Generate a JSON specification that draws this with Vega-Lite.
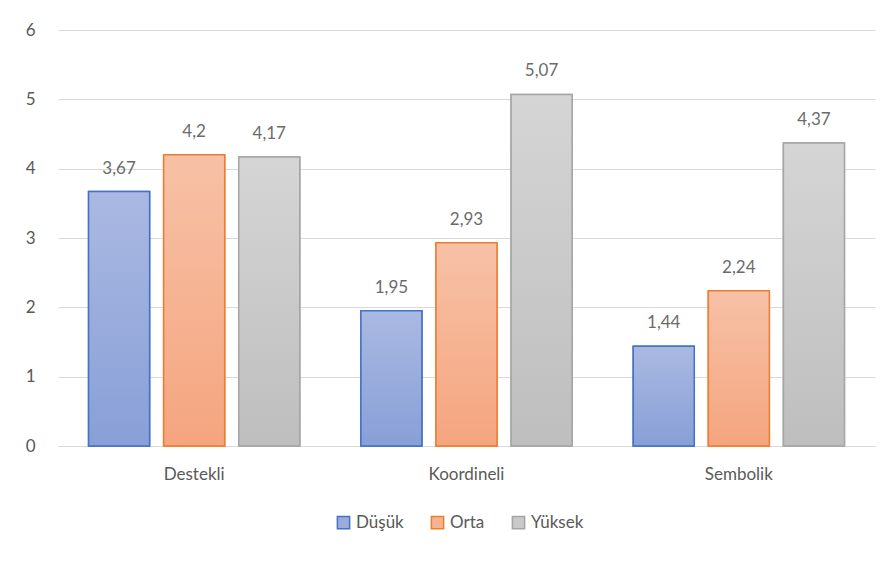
{
  "$schema": "https://vega.github.io/schema/vega-lite/v6.json",
  "width": 817,
  "height": 416,
  "autosize": {"type": "none"},
  "padding": {"left": 58, "top": 30, "right": 18, "bottom": 117},
  "background": "white",
  "config": {
    "locale": {"number": {"decimal": ",", "thousands": ".", "grouping": [3], "currency": ["", " ₺"]}},
    "view": {"stroke": null},
    "font": "Lato",
    "axis": {"labelFont": "Lato", "labelFontSize": 17, "labelColor": "#595959", "ticks": false, "title": null},
    "legend": {"labelFont": "Lato", "labelFontSize": 17, "labelColor": "#595959"}
  },
  "data": {
    "values": [
      {"kategori": "Destekli", "grup": "Düşük", "deger": 3.67},
      {"kategori": "Destekli", "grup": "Orta", "deger": 4.2},
      {"kategori": "Destekli", "grup": "Yüksek", "deger": 4.17},
      {"kategori": "Koordineli", "grup": "Düşük", "deger": 1.95},
      {"kategori": "Koordineli", "grup": "Orta", "deger": 2.93},
      {"kategori": "Koordineli", "grup": "Yüksek", "deger": 5.07},
      {"kategori": "Sembolik", "grup": "Düşük", "deger": 1.44},
      {"kategori": "Sembolik", "grup": "Orta", "deger": 2.24},
      {"kategori": "Sembolik", "grup": "Yüksek", "deger": 4.37}
    ]
  },
  "encoding": {
    "x": {
      "field": "kategori", "type": "nominal", "sort": null,
      "scale": {"paddingInner": 0, "paddingOuter": 0},
      "axis": {"labelAngle": 0, "labelPadding": 20, "domain": true, "domainColor": "#d9d9d9", "domainWidth": 1, "grid": false}
    },
    "xOffset": {
      "field": "grup", "type": "nominal", "sort": null,
      "scale": {"domain": ["Düşük", "Orta", "Yüksek"], "paddingInner": 0.187, "paddingOuter": 0.407}
    },
    "y": {
      "field": "deger", "type": "quantitative",
      "scale": {"domain": [0, 6], "nice": false},
      "axis": {"values": [0, 1, 2, 3, 4, 5, 6], "domain": false, "grid": true, "gridColor": "#d9d9d9", "gridWidth": 1, "labelPadding": 23, "format": "d"}
    }
  },
  "layer": [
    {
      "mark": {"type": "bar", "strokeWidth": 1.5},
      "encoding": {
        "fill": {
          "field": "grup", "type": "nominal", "sort": null,
          "scale": {"domain": ["Düşük", "Orta", "Yüksek"], "range": ["#99acdd", "#f6b392", "#c9c9c9"]},
          "legend": {"title": null, "orient": "none", "legendX": 277, "legendY": 484, "direction": "horizontal", "symbolType": "square", "symbolSize": 150, "symbolStrokeWidth": 1.5, "columnPadding": 24, "labelOffset": 4}
        },
        "stroke": {
          "field": "grup", "type": "nominal", "sort": null,
          "scale": {"domain": ["Düşük", "Orta", "Yüksek"], "range": ["#4472c4", "#ed7d31", "#a5a5a5"]},
          "legend": {"title": null, "orient": "none", "legendX": 277, "legendY": 484, "direction": "horizontal", "symbolType": "square", "symbolSize": 150, "symbolStrokeWidth": 1.5, "columnPadding": 24, "labelOffset": 4}
        }
      }
    },
    {
      "transform": [{"filter": "datum.grup === 'Düşük'"}],
      "mark": {"type": "bar", "strokeWidth": 1.5, "stroke": "#4472c4",
        "fill": {"gradient": "linear", "x1": 0, "y1": 0, "x2": 0, "y2": 1, "stops": [{"offset": 0, "color": "#aab9e2"}, {"offset": 1, "color": "#889fd7"}]}}
    },
    {
      "transform": [{"filter": "datum.grup === 'Orta'"}],
      "mark": {"type": "bar", "strokeWidth": 1.5, "stroke": "#ed7d31",
        "fill": {"gradient": "linear", "x1": 0, "y1": 0, "x2": 0, "y2": 1, "stops": [{"offset": 0, "color": "#f7c1a6"}, {"offset": 1, "color": "#f5a57f"}]}}
    },
    {
      "transform": [{"filter": "datum.grup === 'Yüksek'"}],
      "mark": {"type": "bar", "strokeWidth": 1.5, "stroke": "#a5a5a5",
        "fill": {"gradient": "linear", "x1": 0, "y1": 0, "x2": 0, "y2": 1, "stops": [{"offset": 0, "color": "#d5d5d5"}, {"offset": 1, "color": "#bebebe"}]}}
    },
    {
      "mark": {"type": "text", "baseline": "middle", "align": "center", "dy": -23, "fontSize": 17, "fill": "#6b6b6b"},
      "encoding": {
        "text": {"field": "deger", "type": "quantitative", "format": ".2~f"}
      }
    }
  ]
}
